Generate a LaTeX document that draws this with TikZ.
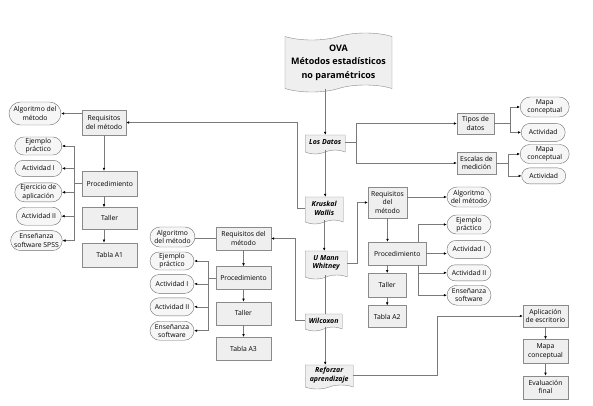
\documentclass[tikz,border=0pt]{standalone}
\usepackage{fontspec}
\setmainfont{Open Sans}
\usetikzlibrary{positioning}
\usetikzlibrary{shapes.misc,shapes.symbols,arrows.meta}

\definecolor{boxfill}{HTML}{EFEFEF}
\definecolor{leaffill}{HTML}{F6F6F6}
\definecolor{boxline}{HTML}{8A8A8A}
\definecolor{wire}{HTML}{7A7A7A}

\tikzset{
  box/.style={rectangle,draw=boxline,fill=boxfill,align=center,inner sep=1pt,
    font=\fontsize{6.8}{8.2}\selectfont},
  leaf/.style={rounded rectangle,draw=boxline!80!black,fill=leaffill,align=center,inner sep=1pt,
    font=\fontsize{6.8}{8.2}\selectfont},
  doc/.style={tape,tape bend top=none,tape bend height=4pt,draw=boxline,fill=boxfill,
    align=center,inner sep=1pt,font=\fontsize{7}{8.5}\selectfont\bfseries\itshape},
  sz/.style 2 args={minimum width=#1pt,minimum height=#2pt},
  link/.style={draw=wire,line width=0.5pt,-{Latex[length=3pt,width=2.6pt,black]}},
  wire/.style={draw=wire,line width=0.5pt}
}

\begin{document}
\begin{tikzpicture}[x=1pt,y=1pt]
  \useasboundingbox (0,0) rectangle (593,-405);
  % main column
  \node(ova)[tape,tape bend height=7pt,draw=boxline,fill=boxfill,sz={107}{59},align=center,
    font=\fontsize{9}{13.5}\selectfont\bfseries] at (338.5,-62.5)
    {OVA\\Métodos estadísticos\\no paramétricos};
  \node(datos)[doc,sz={40}{19},anchor=west] at (305,-142.5){Los Datos};
  \node(kruskal)[doc,sz={38}{27},anchor=west] at (305,-208.5){Kruskal\\Wallis};
  \node(mann)[doc,sz={42}{28},anchor=west] at (305,-263){U Mann\\Whitney};
  \node(wilcoxon)[doc,sz={37}{17},anchor=west] at (305,-320.5){Wilcoxon};
  \node(reforzar)[doc,sz={48}{24},anchor=west] at (305,-375){Reforzar\\aprendizaje};
\draw[link](ova.south -| datos.north)->(datos.north);
\draw[link](datos.south)->(datos.south |- kruskal.north);
\draw[link](kruskal.south)->(kruskal.south |- mann.north);
\draw[wire](mann.south -| datos.south)--(wilcoxon.north -| datos.south);
\draw[link](wilcoxon.south -| datos.south)->(reforzar.north -| datos.south);

  % los datos
  \node(tipos)[box,sz={37}{21}] at (475.5,-123.5){Tipos de\\datos};
  \node(escalas)[box,sz={39}{22}] at (476.5,-163){Escalas de\\medición};
  \node(mapa1)[leaf,sz={51}{20},anchor=west] at (520,-107){Mapa\\conceptual};
  \node(act1)[leaf,sz={46}{18},below=6pt of mapa1.south west,anchor=north west]{Actividad};
  \node(mapa2)[leaf,sz={51}{19},anchor=west] at (520,-154){Mapa\\conceptual};
  \node(act2)[leaf,sz={46}{16},below=4pt of mapa2.south west,anchor=north west]{Actividad};
\draw[link](datos.east)--++(11,0)|-(tipos.west);
\draw[link](datos.east)--++(11,0)|-(escalas.west);
\draw[link](tipos.east)--++(16,0)|-(mapa1.west);
\draw[link](tipos.east)--++(16,0)|-(act1.west);
\draw[link](escalas.east)--++(12,0)|-(mapa2.west);
\draw[link](escalas.east)--++(12,0)|-(act2.west);

  % kruskal wallis
  \node(req1)[box,sz={44}{25}] at (104,-122.5){Requisitos\\del método};
  \node(alg1)[leaf,sz={54}{23}] at (35,-113.5){Algoritmo del\\método};
  \node(proc1)[box,sz={55}{25},anchor=west] at (82,-183.5){Procedimiento};
  \node(taller1)[box,sz={55}{22},below=11pt of proc1]{Taller};
  \node(tabla1)[box,sz={55}{24},below=13pt of taller1]{Tabla A1};
  \node(ej1)[leaf,sz={49}{18},anchor=east] at (62,-146){Ejemplo\\práctico};
  \node(actI1)[leaf,sz={49}{16},below=5pt of ej1]{Actividad I};
  \node(ejer1)[leaf,sz={49}{19},below=6pt of actI1]{Ejercicio de\\aplicación};
  \node(actII1)[leaf,sz={47}{18},below=5pt of ejer1.south east,anchor=north east]{Actividad II};
  \node(ens1)[leaf,sz={51}{20},below=5pt of actII1.south east,anchor=north east]{Enseñanza\\software SPSS};
\draw[link](kruskal.west)--++(-8,0)|-(req1.east);
\draw[link](req1.west |- alg1.east)->(alg1.east);
\draw[link](req1.south)->(req1.south |- proc1.north);
\draw[link](proc1.south -| req1.south)->(taller1.north -| req1.south);
\draw[link](taller1.south -| req1.south)->(tabla1.north -| req1.south);
\draw[link](proc1.west)--++(-8,0)|-(ej1.east);
\draw[link](proc1.west)--++(-8,0)|-(actI1.east);
\draw[link](proc1.west)--++(-8,0)|-(ejer1.east);
\draw[link](proc1.west)--++(-8,0)|-(actII1.east);
\draw[link](proc1.west)--++(-8,0)|-(ens1.east);

  % u mann whitney
  \node(req2)[box,sz={39}{31}] at (387.5,-202.5){Requisitos\\del\\método};
  \node(alg2)[leaf,sz={46}{20}] at (469,-197){Algoritmo\\del método};
  \node(proc2)[box,sz={58}{23},anchor=west] at (368,-253.5){Procedimiento};
  \node(taller2)[box,sz={38}{24},anchor=north west] at (368,-273){Taller};
  \node(tabla2)[box,sz={38}{22},below=8pt of taller2]{Tabla A2};
  \node(ej2)[leaf,sz={46}{19}] at (469,-224.5){Ejemplo\\práctico};
  \node(actI2)[leaf,sz={46}{18},below=6pt of ej2]{Actividad I};
  \node(actII2)[leaf,sz={46}{16},below=6pt of actI2]{Actividad II};
  \node(ens2)[leaf,sz={46}{20},below=4pt of actII2]{Enseñanza\\software};
\draw[link](mann.east)--++(10,0)|-(req2.west);
\draw[link](req2.east |- alg2.west)->(alg2.west);
\draw[link](req2.south)->(req2.south |- proc2.north);
\draw[link](proc2.south -| taller2.north)->(taller2.north);
\draw[link](taller2.south)->(tabla2.north);
\draw[link]([xshift=-8pt]proc2.north east)|-(ej2.west);
\draw[link](proc2.east)->(proc2.east -| actI2.west);
\draw[link]([xshift=-8pt]proc2.south east)|-(actII2.west);
\draw[link]([xshift=-8pt]proc2.south east)|-(ens2.west);

  % wilcoxon
  \node(req3)[box,sz={55}{23}] at (243.5,-238.5){Requisitos del\\método};
  \node(alg3)[leaf,sz={47}{20}] at (172.5,-237){Algoritmo\\del método};
  \node(proc3)[box,sz={55}{23},below=16pt of req3]{Procedimiento};
  \node(taller3)[box,sz={55}{23},below=12pt of proc3]{Taller};
  \node(tabla3)[box,sz={55}{23},below=12pt of taller3]{Tabla A3};
  \node(ej3)[leaf,sz={46}{18}] at (172,-261){Ejemplo\\práctico};
  \node(actI3)[leaf,sz={46}{19},below=4pt of ej3]{Actividad I};
  \node(actII3)[leaf,sz={46}{18},below=4pt of actI3]{Actividad II};
  \node(ens3)[leaf,sz={46}{19},below=5pt of actII3]{Enseñanza\\software};
\draw[link](wilcoxon.west)--++(-10,0)|-(req3.east);
\draw[wire](req3.west)--(req3.west -| alg3.east);
\draw[link](req3.south)->(proc3.north);
\draw[link](proc3.south)->(taller3.north);
\draw[link](taller3.south)->(tabla3.north);
\draw[link](proc3.west)--++(-8,0)|-(ej3.east);
\draw[link](proc3.west)--++(-8,0)|-(actI3.east);
\draw[link](proc3.west)--++(-8,0)|-(actII3.east);
\draw[link](proc3.west)--++(-8,0)|-(ens3.east);

  % reforzar aprendizaje
  \node(app)[box,sz={45}{22}] at (545.5,-316){Aplicación\\de escritorio};
  \node(mapa3)[box,sz={45}{24},below=12pt of app]{Mapa\\conceptual};
  \node(eval)[box,sz={45}{23},below=12pt of mapa3]{Evaluación\\final};
\draw[link](reforzar.east)--++(84,0)|-(app.west);
\draw[link](app)->(mapa3);
\draw[link](mapa3)->(eval);
\end{tikzpicture}
\end{document}
